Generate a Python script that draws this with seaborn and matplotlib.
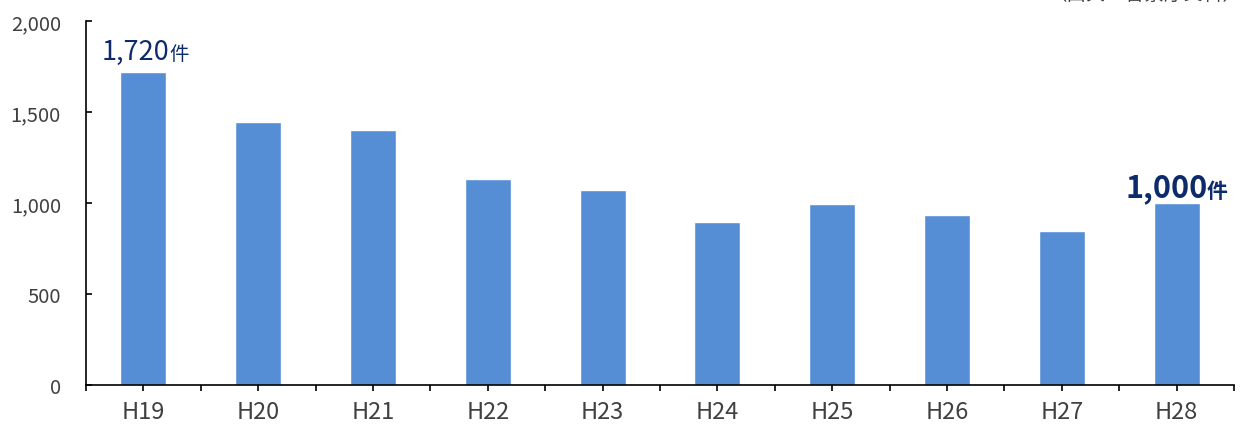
import numpy as np
import matplotlib.pyplot as plt
import seaborn as sns

years = ["H19", "H20", "H21", "H22", "H23", "H24", "H25", "H26", "H27", "H28"]
counts = [1720, 1445, 1400, 1130, 1070, 895, 995, 935, 845, 1000]
yticks = [0, 500, 1000, 1500, 2000]
ytick_labels = ["0", "500", "1,000", "1,500", "2,000"]

sns.set_theme(style="white")
plt.rcParams['font.family'] = ['Noto Sans CJK JP', 'DejaVu Sans']

fig = plt.figure(figsize=(12.45, 4.27), dpi=100)
ax = fig.add_axes([86 / 1245, 41 / 427, 1148 / 1245, 364 / 427])

sns.barplot(x=years, y=counts, color="#558ED5", saturation=1, width=0.4, ax=ax)

ax.set_xlim(-0.5, len(years) - 0.5)
ax.set_ylim(0, 2000)
ax.set_yticks(yticks)
ax.set_yticklabels(ytick_labels)
ax.set_xticks(np.arange(-0.5, len(years), 1.0), minor=True)
ax.set_xlabel('')
ax.set_ylabel('')

for side in ['top', 'right']:
    ax.spines[side].set_visible(False)
for side in ['left', 'bottom']:
    ax.spines[side].set_color('black')
    ax.spines[side].set_linewidth(1.2)

ax.tick_params(axis='y', direction='in', length=4, width=1.2, color='black',
               labelsize=14.5, labelcolor='#404040', pad=18, left=True)
ax.tick_params(axis='x', which='major', direction='inout', length=8, width=1.2,
               color='black', labelsize=17, labelcolor='#404040', pad=7, bottom=True)
ax.tick_params(axis='x', which='minor', direction='out', length=4, width=1.2,
               color='black', bottom=True)

navy = "#0D2A6B"
# first year label
ax.text(0.23, counts[0] + 70, "1,720", ha='right', va='baseline',
        fontsize=19.5, color=navy)
ax.text(0.225, counts[0] + 70, "件", ha='left', va='baseline',
        fontsize=14, color=navy)
# last year label
ax.text(9.27, counts[-1] + 35, "1,000", ha='right', va='baseline',
        fontsize=22, fontweight='bold', color=navy)
ax.text(9.265, counts[-1] + 35, "件", ha='left', va='baseline',
        fontsize=15, fontweight='bold', color=navy)

fig.text(0.998, 1 - 5 / 427, "（出典：警察庁資料）", ha='right', va='bottom',
         fontsize=14, color='#404040')

fig.savefig("out.png", dpi=100)
